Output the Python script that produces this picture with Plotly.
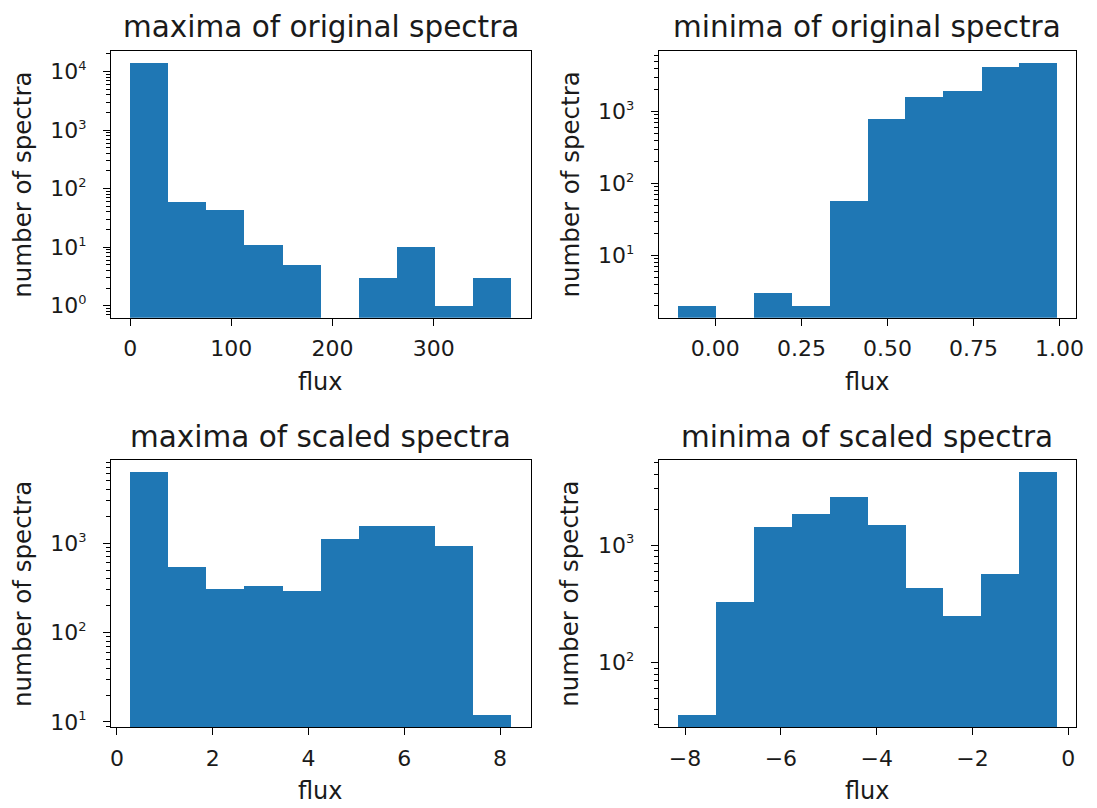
import plotly.graph_objects as go
import numpy as np

# ---------------- data ----------------
titles = ["maxima of original spectra", "minima of original spectra",
          "maxima of scaled spectra", "minima of scaled spectra"]
x_label = "flux"
y_label = "number of spectra"

p1_edges = [0, 37.7, 75.4, 113.1, 150.8, 188.5, 226.2, 263.9, 301.6, 339.3, 377]
p1_counts = [13800, 59, 42, 11, 5, 0, 3, 10, 1, 3]

p2_edges = [-0.109, 0.001, 0.111, 0.222, 0.332, 0.442, 0.552, 0.662, 0.773, 0.883, 0.993]
p2_counts = [2, 0, 3, 2, 57, 787, 1610, 1920, 4200, 4700]

p3_edges = [0.276, 1.072, 1.869, 2.665, 3.462, 4.258, 5.054, 5.851, 6.647, 7.444, 8.24]
p3_counts = [6150, 537, 302, 329, 288, 1108, 1525, 1525, 918, 12]

p4_edges = [-8.15, -7.358, -6.567, -5.775, -4.984, -4.192, -3.4, -2.609, -1.817, -1.026, -0.234]
p4_counts = [36, 325, 1425, 1808, 2540, 1472, 428, 246, 561, 4130]

p1_xticks = [0, 100, 200, 300]
p1_xtext = ["0", "100", "200", "300"]
p2_xticks = [0, 0.25, 0.5, 0.75, 1.0]
p2_xtext = ["0.00", "0.25", "0.50", "0.75", "1.00"]
p3_xticks = [0, 2, 4, 6, 8]
p3_xtext = ["0", "2", "4", "6", "8"]
p4_xticks = [-8, -6, -4, -2, 0]
p4_xtext = ["\u22128", "\u22126", "\u22124", "\u22122", "0"]

p1_ydec = [0, 1, 2, 3, 4]
p2_ydec = [1, 2, 3]
p3_ydec = [1, 2, 3]
p4_ydec = [2, 3]

# ---------------- layout ----------------
W, H = 1097, 808
BLUE = "#1f77b4"
FONT = "DejaVu Sans"
TXT = "#1a1a1a"

# plot boxes in pixels: (left, right, top, bottom)
boxes = [(111, 534, 51.7, 321), (663.3, 1084, 51.7, 321),
         (111, 534, 465, 734.3), (663.3, 1084, 465, 734.3)]

panels = [
    (p1_edges, p1_counts, p1_xticks, p1_xtext, p1_ydec),
    (p2_edges, p2_counts, p2_xticks, p2_xtext, p2_ydec),
    (p3_edges, p3_counts, p3_xticks, p3_xtext, p3_ydec),
    (p4_edges, p4_counts, p4_xticks, p4_xtext, p4_ydec),
]

fig = go.Figure()
annotations = []
minor_vals = [k * 10.0 ** d for d in range(-1, 6) for k in range(2, 10)]

for i, (edges, counts, xt, xtt, ydec) in enumerate(panels):
    n = i + 1
    xa = "x" if n == 1 else f"x{n}"
    ya = "y" if n == 1 else f"y{n}"
    e = np.array(edges, dtype=float)
    c = np.array(counts, dtype=float)
    centers = (e[:-1] + e[1:]) / 2
    widths = e[1:] - e[:-1]
    mask = c > 0
    fig.add_trace(go.Bar(x=centers[mask], y=c[mask], width=widths[mask],
                         marker=dict(color=BLUE, line=dict(width=0)),
                         xaxis=xa, yaxis=ya, showlegend=False, hoverinfo="x+y"))

    l, r, t, b = boxes[i]
    xdom = [l / W, r / W]
    ydom = [1 - b / H, 1 - t / H]
    xr = e[-1] - e[0]
    xrange = [e[0] - 0.05 * xr, e[-1] + 0.05 * xr]
    lo, hi = np.log10(c[mask].min()), np.log10(c[mask].max())
    yr = hi - lo
    yrange = [lo - 0.05 * yr, hi + 0.05 * yr]

    axcommon = dict(showline=True, linecolor="black", linewidth=1.3, mirror=True,
                    ticks="outside", ticklen=7, tickwidth=1.3, tickcolor="black",
                    showgrid=False, zeroline=False,
                    tickfont=dict(family=FONT, size=22, color=TXT))
    xkey = "xaxis" if n == 1 else f"xaxis{n}"
    ykey = "yaxis" if n == 1 else f"yaxis{n}"
    fig.update_layout({
        xkey: dict(domain=xdom, anchor=ya, range=xrange, tickmode="array",
                   tickvals=xt, ticktext=xtt, ticklabelstandoff=4, **axcommon),
        ykey: dict(domain=ydom, anchor=xa, type="log", range=yrange, tickmode="array",
                   tickvals=[10 ** d for d in ydec],
                   ticktext=[f"10<sup><span style='font-size:13px'>{d}</span></sup>" for d in ydec],
                   ticklabelstandoff=12,
                   minor=dict(tickmode="array", tickvals=minor_vals, ticks="outside",
                              ticklen=4, tickwidth=1, tickcolor="black", showgrid=False),
                   **axcommon),
    })

    cx = (l + r) / 2
    # title
    annotations.append(dict(text=titles[i], x=cx / W, y=1 - (t - 24) / H,
                            xref="paper", yref="paper", xanchor="center", yanchor="middle",
                            showarrow=False, font=dict(family=FONT, size=29.5, color=TXT)))
    # x label
    annotations.append(dict(text=x_label, x=cx / W, y=1 - (b + 65) / H,
                            xref="paper", yref="paper", xanchor="center", yanchor="middle",
                            showarrow=False, font=dict(family=FONT, size=24, color=TXT)))
    # y label
    annotations.append(dict(text=y_label, x=(l - 89.5) / W, y=1 - ((t + b) / 2) / H,
                            xref="paper", yref="paper", xanchor="center", yanchor="middle",
                            textangle=-90,
                            showarrow=False, font=dict(family=FONT, size=24.5, color=TXT)))

fig.update_layout(width=W, height=H, margin=dict(l=0, r=0, t=0, b=0),
                  paper_bgcolor="white", plot_bgcolor="white",
                  bargap=0, annotations=annotations,
                  font=dict(family=FONT, color=TXT))

fig.write_html("out.html")
